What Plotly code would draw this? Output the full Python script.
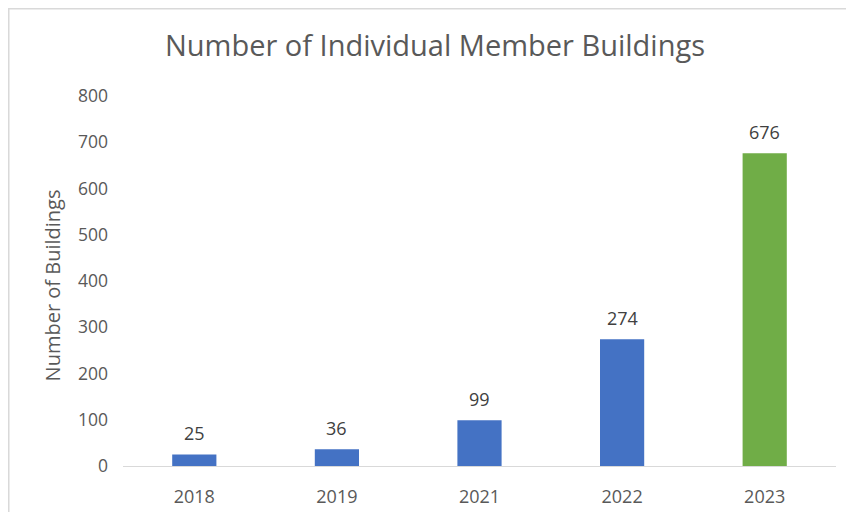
import plotly.graph_objects as go

# chart data
years = ['2018', '2019', '2021', '2022', '2023']
buildings = [25, 36, 99, 274, 676]
bar_colors = ['#4472C4', '#4472C4', '#4472C4', '#4472C4', '#70AD47']

FONT = "Open Sans"
GREY = "#595959"

fig = go.Figure(
    go.Bar(
        x=years,
        y=buildings,
        marker=dict(color=bar_colors, line=dict(width=0)),
        width=0.31,
        hoverinfo="x+y",
    )
)

# value labels above the bars (category index positions)
for i, val in enumerate(buildings):
    fig.add_annotation(
        x=i, y=val, text=str(val), showarrow=False,
        yanchor="bottom", yshift=7,
        font=dict(family=FONT, size=18, color="#404040"),
    )

# y axis title
fig.add_annotation(
    x=-0.0996, y=0.488, xref="paper", yref="paper",
    xanchor="center", yanchor="middle",
    text="Number of Buildings", textangle=-90, showarrow=False,
    font=dict(family=FONT, size=20, color=GREY),
)

# chart border (Excel style)
fig.add_shape(
    type="rect", xref="paper", yref="paper",
    x0=-0.1602, y0=-1, x1=2, y1=1.2358,
    line=dict(color="#d9d9d9", width=1.5),
)

fig.update_layout(
    width=854, height=512,
    margin=dict(l=115, r=26, t=88, b=54),
    paper_bgcolor="white", plot_bgcolor="white",
    title=dict(
        text="Number of Individual Member Buildings",
        x=0.5, xref="container", xanchor="center",
        y=0.926, yanchor="middle",
        font=dict(family=FONT, size=29, color=GREY),
    ),
    font=dict(family=FONT, size=18, color=GREY),
    showlegend=False,
)

fig.update_xaxes(
    type="category", categoryorder="array", categoryarray=years,
    range=[-0.5, len(years) - 0.5],
    showline=True, linecolor="#d9d9d9", linewidth=1,
    showgrid=False, ticks="", ticklabelstandoff=14,
    tickfont=dict(family=FONT, size=18, color=GREY),
)
fig.update_yaxes(
    range=[0, 800], dtick=100,
    showgrid=False, zeroline=False, showline=False,
    ticks="", ticklabelstandoff=14,
    tickfont=dict(family=FONT, size=17.5, color=GREY),
)

fig.write_html("out.html")
